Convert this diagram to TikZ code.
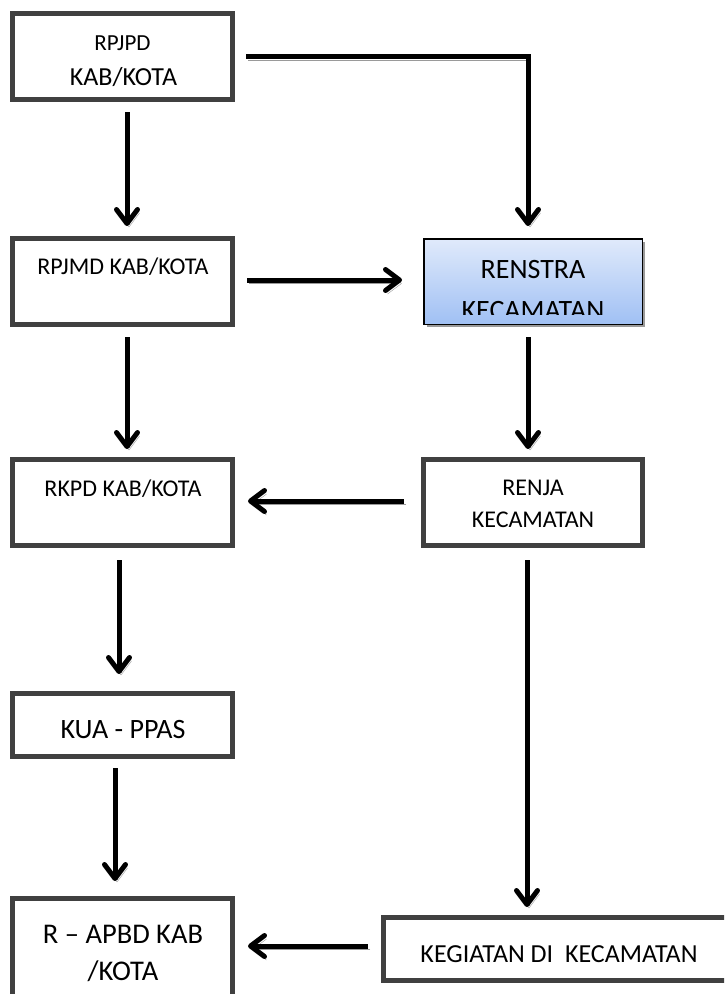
\documentclass[tikz,border=0pt]{standalone}
\usepackage{fontspec}
\setmainfont{Carlito}
\usetikzlibrary{arrows.meta,calc}
\definecolor{boxline}{HTML}{404040}
\definecolor{shad}{HTML}{9A9A9A}
\definecolor{blueTop}{HTML}{E0EAFB}
\definecolor{blueBot}{HTML}{A0C0F4}
\newcommand\fsz[1]{\fontsize{#1}{#1}\selectfont}
\begin{document}
\begin{tikzpicture}[x=1pt,y=-1pt,
  box/.style={draw=boxline, line width=5pt, fill=white, minimum width=220pt,
    minimum height=86pt, inner sep=0pt, outer sep=2.5pt},
  bluebox/.style={draw=black, line width=1.5pt, top color=blueTop, bottom color=blueBot,
    minimum width=218.5pt, minimum height=85.5pt, inner sep=0pt, outer sep=0.75pt,
    preaction={fill=shad, transform canvas={shift={(3pt,-3pt)}}}},
  lbl/.style={inner sep=0pt, anchor=base, text=black},
  arr/.style={line width=5pt, -{Straight Barb[length=14pt,width=21pt,round]},
    preaction={draw=shad, transform canvas={shift={(2pt,-3.5pt)}}}}]
\useasboundingbox (0,0) rectangle (724,994);
\clip (0,0) rectangle (724,994);
% boxes
\node[box] (rpjpd) at (122.5,56.5) {};
\node[box] (rpjmd) at (122.5,281.5) {};
\node[box] (rkpd) at (122.5,502.5) {};
\node[box, minimum height=63pt] (kua) at (122.5,725) {};
\node[box, minimum height=109pt] (rapbd) at (122.5,953) {};
\node[box, minimum width=219pt] (renja) at (533,502.5) {};
\node[box, minimum width=351pt, minimum height=63pt] (kegiatan) at (559,949) {};
\node[bluebox] (renstra) at (533,281.5) {};
% labels
\node[lbl, font=\fsz{23}] (t1) at (122.5,50) {RPJPD};
\node[lbl, font=\fsz{26}] (t2) at (123.5,85) {KAB/KOTA};
\node[lbl, font=\fsz{24}] (t3) at (123,274) {RPJMD KAB/KOTA};
\node[lbl, font=\fsz{24}] (t4) at (123,496) {RKPD KAB/KOTA};
\node[lbl, font=\fsz{24}] (t5) at (533,495) {RENJA};
\node[lbl, font=\fsz{24}] (t6) at (533,527) {KECAMATAN};
\node[lbl, font=\fsz{28}] (t7) at (123,738) {KUA - PPAS};
\node[lbl, font=\fsz{28.5}] (t8) at (123,943) {R – APBD KAB};
\node[lbl, font=\fsz{28.5}] (t9) at (123,980) {/KOTA};
\node[lbl, font=\fsz{26}] (t10) at (559,962) {KEGIATAN DI\ \ KECAMATAN};
\node[lbl, font=\fsz{28}] (t11) at (533,278) {RENSTRA};
\begin{scope}
  \clip (420,240) rectangle (646,314);
  \node[lbl, font=\fsz{28}] (t12) at (533,319) {KECAMATAN};
\end{scope}
% connectors
\draw[arr] ($(rpjpd.south)+(4.5,10)$) -- ($(rpjmd.north)+(4.5,-10)$);
\draw[arr] ($(rpjpd.east)+(11,0)$) -| ($(renstra.north)+(-5,-12)$);
\draw[arr] ($(rpjmd.east)+(12,-1.5)$) -- ($(renstra.west)+(-21,-1.5)$);
\draw[arr] ($(rpjmd.south)+(4.5,10)$) -- ($(rkpd.north)+(4.5,-8)$);
\draw[arr] ($(renstra.south)+(-5,12)$) -- ($(renja.north)+(-5,-8)$);
\draw[arr] ($(renja.west)+(-17,-1.5)$) -- ($(rkpd.east)+(13,-1.5)$);
\draw[arr] ($(rkpd.south)+(-3.5,12)$) -- ($(kua.north)+(-3.5,-17)$);
\draw[arr] ($(kua.south)+(-7.5,9)$) -- ($(rapbd.north)+(-7.5,-15)$);
\draw[arr] ($(renja.south)+(-6,12)$) -- ($(kegiatan.north)+(-32,-8)$);
\draw[arr] ($(kegiatan.west)+(-13,-3)$) -- ($(rapbd.east)+(13,-7)$);
\end{tikzpicture}
\end{document}
